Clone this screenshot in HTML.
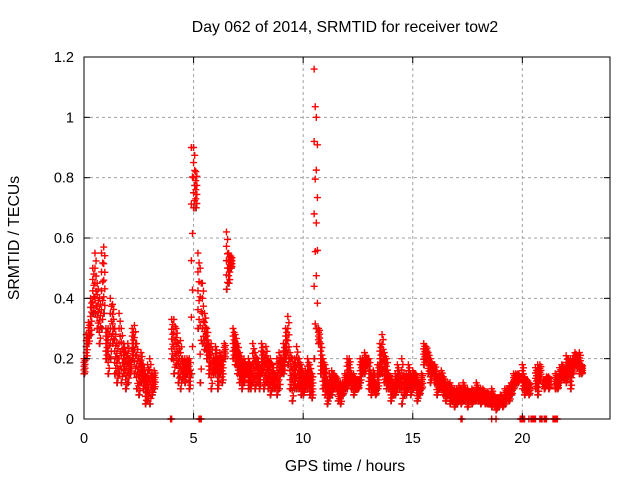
<!DOCTYPE html>
<html><head><meta charset="utf-8"><style>
body{margin:0;background:#fff}
svg{display:block;font-family:"Liberation Sans",sans-serif}
</style></head><body>
<svg id="chart" width="640" height="480" viewBox="0 0 640 480" xmlns="http://www.w3.org/2000/svg">
<rect width="640" height="480" fill="#fff"/>
<text x="345" y="32" font-size="15.8" text-anchor="middle">Day 062 of 2014, SRMTID for receiver tow2</text>
<text x="345" y="471" font-size="15.8" text-anchor="middle">GPS time / hours</text>
<text transform="translate(19,238) rotate(-90)" font-size="15.8" text-anchor="middle">SRMTID / TECUs</text>
<g id="grid"></g>
<g id="marks"></g>
<rect x="84" y="57" width="526" height="362" fill="none" stroke="#000" stroke-width="1"/>
<g id="ticks"></g>
</svg>
<script>
const xTicks=[0,5,10,15,20];
const yTicks=[0,0.2,0.4,0.6,0.8,1,1.2];
const yTickLabels=["0","0.2","0.4","0.6","0.8","1","1.2"];
const tStart=0, tStep=0.1;
const lowVals=[0.15,0.2,0.25,0.28,0.35,0.35,0.3,0.25,0.3,0.35,0.2,0.15,0.2,0.25,0.15,0.12,0.15,0.12,0.15,0.1,0.12,0.15,0.2,0.15,0.1,0.08,0.12,0.1,0.05,0.06,0.05,0.08,0.1,
null,null,null,null,null,null,null,
0.2,0.15,0.18,0.12,0.1,0.13,0.12,0.15,0.1,0.15,0.7,0.7,0.3,0.12,0.25,0.23,0.2,0.15,0.1,0.15,0.15,0.1,0.15,0.12,0.2,0.43,0.45,0.5,0.2,0.18,
0.15,0.12,0.1,0.12,0.15,0.1,0.1,0.12,0.1,0.12,0.1,0.15,0.1,0.12,0.1,0.08,0.1,0.1,0.08,0.1,0.15,0.15,0.2,0.18,0.1,0.06,0.1,0.1,0.1,0.08,
0.08,0.1,0.1,0.08,0.07,0.2,0.3,0.25,0.15,0.1,0.08,0.05,0.07,0.08,0.1,0.1,0.06,0.05,0.08,0.1,0.1,0.12,0.1,0.08,0.1,0.1,0.12,0.15,0.15,0.18,
0.1,0.08,0.1,0.08,0.1,0.15,0.15,0.12,0.1,0.1,0.06,0.08,0.08,0.1,0.1,0.05,0.08,0.08,0.1,0.08,0.1,0.12,0.06,0.08,0.1,0.18,0.2,0.15,0.12,0.15,
0.12,0.08,0.1,0.1,0.08,0.06,0.08,0.05,0.06,0.04,0.05,0.06,0.05,0.06,0.06,0.04,0.06,0.05,0.06,0.06,0.06,0.05,0.06,0.05,0.05,0.05,0.04,0.05,0.03,0.04,
0.05,0.04,0.05,0.07,0.06,0.08,0.1,0.12,0.12,null,0.1,0.08,0.1,0.08,null,null,0.1,0.08,0.13,null,0.1,0.12,0.1,null,null,0.1,0.1,0.12,0.14,0.13,
0.12,0.14,0.1,0.15,0.18,0.17,0.15,0.15];
const highVals=[0.2,0.28,0.32,0.4,0.5,0.55,0.45,0.4,0.55,0.57,0.3,0.3,0.4,0.38,0.3,0.25,0.35,0.3,0.25,0.22,0.25,0.2,0.3,0.31,0.25,0.2,0.22,0.18,0.15,0.18,0.2,0.15,0.16,
null,null,null,null,null,null,null,
0.33,0.33,0.3,0.25,0.26,0.2,0.2,0.2,0.2,0.9,0.9,0.82,0.55,0.5,0.45,0.35,0.3,0.25,0.25,0.2,0.24,0.2,0.22,0.2,0.25,0.62,0.55,0.54,0.3,0.28,
0.25,0.22,0.2,0.2,0.18,0.2,0.18,0.25,0.22,0.2,0.18,0.25,0.22,0.24,0.2,0.2,0.18,0.15,0.2,0.22,0.2,0.25,0.3,0.34,0.22,0.2,0.2,0.24,0.2,0.18,
0.15,0.16,0.2,0.18,0.15,1.16,1.0,0.3,0.25,0.2,0.18,0.13,0.15,0.16,0.15,0.14,0.12,0.12,0.12,0.15,0.2,0.2,0.15,0.15,0.13,0.13,0.2,0.2,0.22,0.2,
0.2,0.15,0.16,0.12,0.18,0.25,0.28,0.22,0.2,0.15,0.14,0.12,0.15,0.18,0.15,0.2,0.15,0.15,0.18,0.15,0.16,0.15,0.13,0.12,0.15,0.25,0.24,0.22,0.2,0.18,
0.18,0.15,0.15,0.16,0.14,0.12,0.12,0.12,0.1,0.1,0.1,0.11,0.1,0.12,0.1,0.1,0.09,0.1,0.08,0.12,0.1,0.1,0.1,0.08,0.09,0.08,0.1,0.08,0.07,0.07,
0.08,0.07,0.1,0.1,0.11,0.12,0.15,0.15,0.15,null,0.18,0.14,0.13,0.12,null,null,0.17,0.18,0.18,null,0.13,0.14,0.14,null,null,0.15,0.13,0.17,0.18,0.16,
0.21,0.2,0.2,0.2,0.22,0.2,0.22,0.18];
const zeroTimes=[3.95,4.0,5.25,5.3,5.35,17.2,17.25,18.6,18.8,19.9,19.95,20.0,20.05,20.1,20.3,20.4,20.45,20.5,20.55,20.6,20.8,20.85,20.9,21.0,21.05,21.1,21.4,21.45,21.5,21.55,21.6];

const X0=84,X1=610,Y0=419,Y1=57,XMAX=24,YMAX=1.2;
const xs=t=>X0+(t/XMAX)*(X1-X0);
const ys=v=>Y0-(v/YMAX)*(Y0-Y1);
const NS="http://www.w3.org/2000/svg";
const grid=document.getElementById('grid'),ticks=document.getElementById('ticks'),marks=document.getElementById('marks');
function mk(tag,attrs,parent){const e=document.createElementNS(NS,tag);for(const k in attrs)e.setAttribute(k,attrs[k]);parent.appendChild(e);return e;}
xTicks.forEach((t,i)=>{
  const x=xs(t);
  if(t>0){const g=mk('line',{x1:x,x2:x,y1:Y0,y2:Y1,stroke:'#a0a0a0','stroke-dasharray':'3,3'},grid);
  
  }
  mk('line',{x1:x,x2:x,y1:Y0,y2:Y0-6,stroke:'#000'},ticks);
  mk('line',{x1:x,x2:x,y1:Y1,y2:Y1+6,stroke:'#000'},ticks);
  const tx=mk('text',{x:x,y:Y0+24,'font-size':14.5,'text-anchor':'middle'},ticks);
  tx.textContent=String(t);
  
  
});
yTicks.forEach((v,i)=>{
  const y=ys(v);
  if(v>0&&v<YMAX){const g=mk('line',{x1:X0,x2:X1,y1:y,y2:y,stroke:'#a0a0a0','stroke-dasharray':'3,3'},grid);
  
  }
  mk('line',{x1:X0,x2:X0+6,y1:y,y2:y,stroke:'#000'},ticks);
  mk('line',{x1:X1,x2:X1-6,y1:y,y2:y,stroke:'#000'},ticks);
  const tx=mk('text',{x:X0-10,y:y+5,'font-size':14.5,'text-anchor':'end'},ticks);
  tx.textContent=yTickLabels[i];
  
  
});
function plus(t,v,color){
  const x=xs(t),y=ys(v);
  const p=mk('path',{d:`M${x-3.5},${y}h7M${x},${y-3.5}v7`,stroke:color,'stroke-width':1.4,fill:'none'},marks);
  
  
}
lowVals.forEach((lo,i)=>{
  const hi=highVals[i];
  if(lo==null||hi==null)return;
  const t=tStart+i*tStep;
  plus(t+0.02,lo,'#333');
  const fr=[0,0.25,0.5,0.75,1];
  fr.forEach(f=>plus(t,lo+(hi-lo)*f,'#f00'));
  [0.12,0.37,0.62,0.87].forEach(f=>plus(t+0.05,lo+(hi-lo)*f,'#f00'));
});
zeroTimes.forEach(t=>plus(t,0,'#f00'));
</script>
</body></html>
